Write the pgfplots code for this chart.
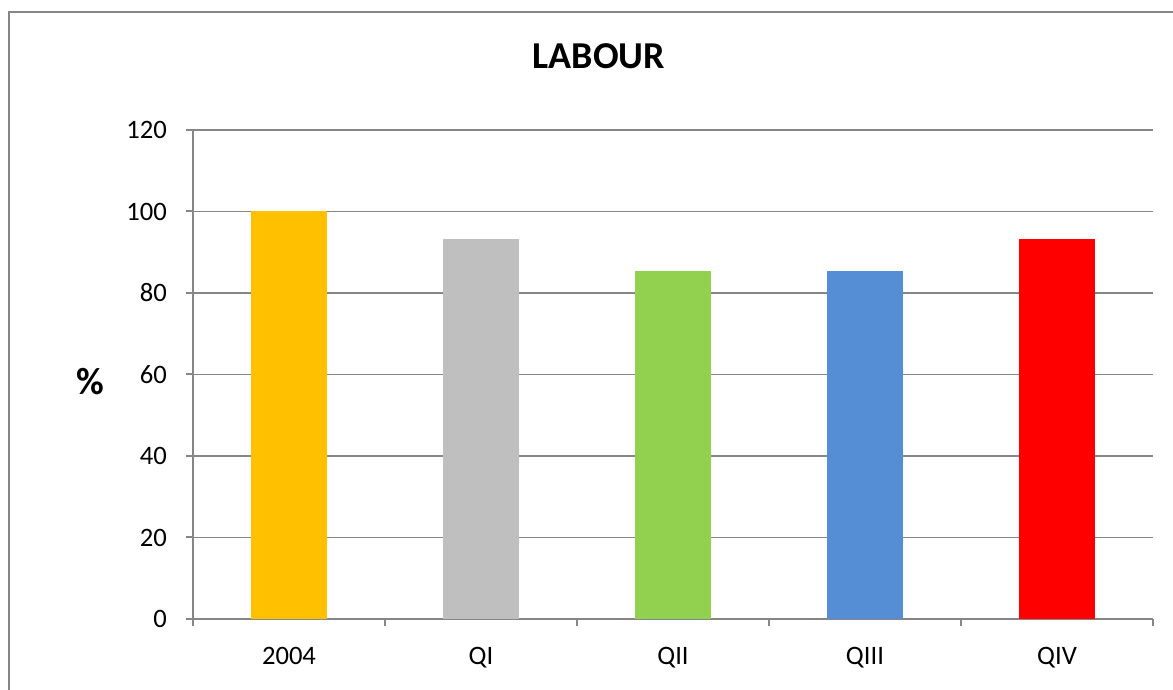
\documentclass[border=0pt]{standalone}
\usepackage{pgfplots}
\pgfplotsset{compat=1.18}
\usepackage{fontspec}
\setmainfont{Carlito}
\definecolor{cA}{HTML}{FFC000}
\definecolor{cB}{HTML}{BFBFBF}
\definecolor{cC}{HTML}{92D050}
\definecolor{cD}{HTML}{558ED5}
\definecolor{cE}{HTML}{FF0000}
\definecolor{axgray}{HTML}{868686}
\begin{document}
\begin{tikzpicture}
\useasboundingbox (0pt,0pt) rectangle (586.5pt,345pt);
\clip (0pt,0pt) rectangle (586.5pt,345pt);
\draw[color=axgray, line width=1pt] (4.5pt,-10pt) rectangle (594.5pt,339pt);
\node[font=\bfseries\fontsize{19}{23}\selectfont] at (299.5pt,317pt) {LABOUR};
\node[font=\bfseries\fontsize{19}{23}\selectfont] at (45pt,154pt) {\%};
\begin{axis}[
  at={(96.5pt,35.5pt)}, anchor=south west,
  scale only axis, width=480pt, height=244.5pt,
  ymin=0, ymax=120, ytick={0,20,...,120},
  xmin=-0.5, xmax=4.5,
  xtick={0,1,2,3,4},
  xticklabels={2004,QI,QII,QIII,QIV},
  minor xtick={-0.5,0.5,...,4.5},
  axis x line*=bottom, axis y line*=left,
  axis line style={color=axgray, line width=1pt},
  ymajorgrids, grid style={color=axgray, line width=0.75pt},
  tick align=outside,
  major tick length=3.5pt, minor tick length=3.5pt,
  every tick/.style={color=axgray, line width=1pt},
  major x tick style={draw=none},
  tick label style={font=\fontsize{13.3}{16}\selectfont, text=black},
  yticklabel style={xshift=-6pt},
  xticklabel style={yshift=-7pt},
  /pgf/number format/assume math mode=true,
  ybar, bar width=0.4, bar shift=0pt,
  clip=false,
]
\addplot[fill=cA, draw=none] coordinates {(0,100)};
\addplot[fill=cB, draw=none] coordinates {(1,93.3)};
\addplot[fill=cC, draw=none] coordinates {(2,85.4)};
\addplot[fill=cD, draw=none] coordinates {(3,85.4)};
\addplot[fill=cE, draw=none] coordinates {(4,93.3)};
\end{axis}
\end{tikzpicture}
\end{document}
